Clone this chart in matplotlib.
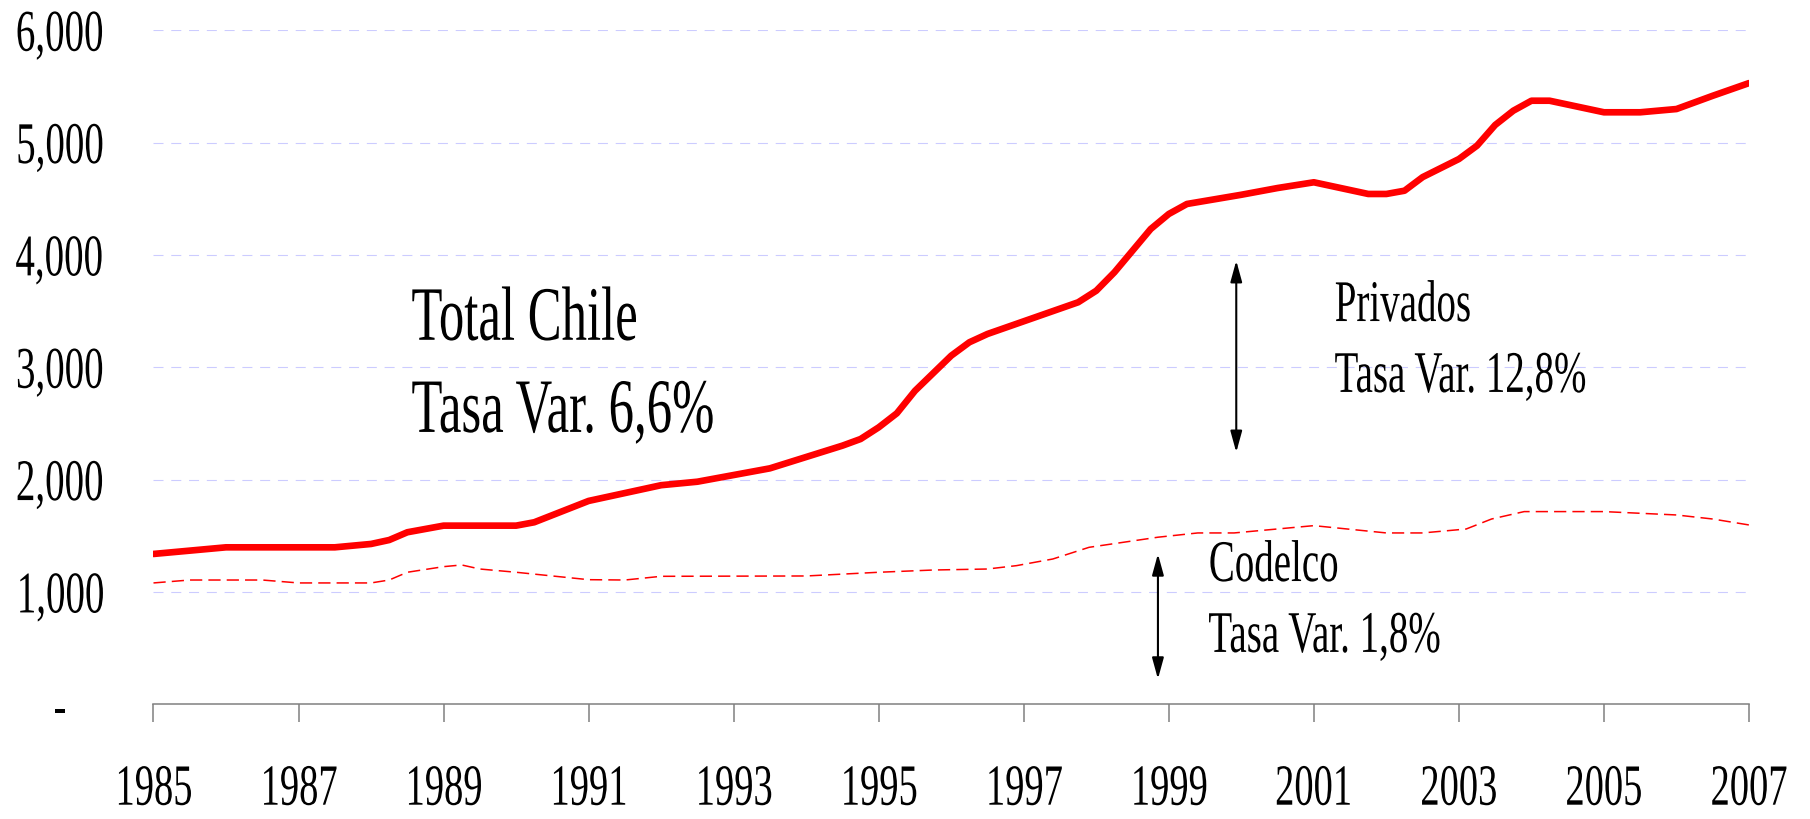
import matplotlib
matplotlib.use('Agg')
import matplotlib.pyplot as plt
from matplotlib.patheffects import AbstractPathEffect
from matplotlib.transforms import Affine2D, blended_transform_factory

# Producción de cobre en Chile (miles de TM)
total_years = [1985.0, 1986.0, 1987.5, 1988.0, 1988.25, 1988.5, 1989.0, 1990.0,
               1990.25, 1991.0, 1992.0, 1992.5, 1993.5, 1994.5, 1994.75, 1995.0,
               1995.25, 1995.5, 1996.0, 1996.25, 1996.5, 1997.75, 1998.0, 1998.25,
               1998.75, 1999.0, 1999.25, 2000.0, 2000.5, 2001.0, 2001.75, 2002.0,
               2002.25, 2002.5, 2003.0, 2003.25, 2003.5, 2003.75, 2004.0, 2004.25,
               2005.0, 2005.5, 2006.0, 2006.5, 2007.0]
total_values = [1338, 1397, 1397, 1427, 1462, 1531, 1590, 1590,
                1620, 1810, 1950, 1981, 2100, 2302, 2361, 2465,
                2590, 2790, 3103, 3222, 3296, 3578, 3681, 3845,
                4230, 4364, 4453, 4535, 4595, 4646, 4542, 4542,
                4571, 4692, 4853, 4972, 5156, 5283, 5372, 5372,
                5269, 5269, 5298, 5416, 5529]

codelco_years = [1985.0, 1985.5, 1986.5, 1987.0, 1988.0, 1988.25, 1988.5, 1989.0,
                 1989.25, 1989.5, 1990.0, 1991.0, 1991.5, 1992.0, 1994.0, 1995.0,
                 1995.75, 1996.5, 1996.9, 1997.4, 1997.9, 1998.85, 1999.4, 1999.9,
                 2001.0, 2002.0, 2002.5, 2003.1, 2003.45, 2003.9, 2005.0, 2006.0,
                 2006.5, 2007.0]
codelco_values = [1080, 1106, 1106, 1080, 1080, 1106, 1175, 1225,
                  1240, 1204, 1175, 1109, 1106, 1139, 1142, 1175,
                  1195, 1204, 1234, 1293, 1397, 1487, 1525, 1525,
                  1590, 1525, 1525, 1560, 1649, 1715, 1715, 1685,
                  1649, 1596]

tick_years = list(range(1985, 2008, 2))
y_ticks = [0, 1000, 2000, 3000, 4000, 5000, 6000]

SQUEEZE = 0.66  # the original uses a narrow Times-like face


class Squeeze(AbstractPathEffect):
    """Draw text narrower, keeping its left/center/right ink edge in place."""

    def __init__(self, sx=SQUEEZE, anchor='left'):
        super().__init__()
        self.sx = sx
        self.anchor = anchor

    def draw_path(self, renderer, gc, tpath, affine, rgbFace=None):
        ext = tpath.get_extents(affine)
        if self.anchor == 'right':
            x0 = ext.x1
        elif self.anchor == 'center':
            x0 = (ext.x0 + ext.x1) / 2
        else:
            x0 = ext.x0
        narrow = affine + Affine2D().translate(-x0, 0).scale(self.sx, 1).translate(x0, 0)
        renderer.draw_path(gc, tpath, narrow, rgbFace)


plt.rcParams['font.family'] = ['Liberation Serif', 'DejaVu Serif']

fig = plt.figure(figsize=(18.1, 8.2), dpi=100)
ax = fig.add_axes([0.0848, 0.1399, 0.8815, 0.8221])

ax.plot(codelco_years, codelco_values, color='#ff0000', lw=1.1, dashes=(8, 4))
ax.plot(total_years, total_values, color='#ff0000', lw=4.8,
        solid_joinstyle='round', solid_capstyle='round')

ax.set_xlim(1985, 2007)
ax.set_ylim(0, 6000)

# grid
for v in y_ticks[1:]:
    ax.axhline(v, color='#ccccff', lw=0.8, dashes=(9, 7), zorder=0)

for side in ['top', 'right', 'left']:
    ax.spines[side].set_visible(False)
ax.spines['bottom'].set_color('#808080')
ax.spines['bottom'].set_linewidth(1.1)

ax.set_xticks(tick_years)
ax.set_xticklabels([str(y) for y in tick_years])
ax.tick_params(axis='x', direction='out', length=13, width=1.1, color='#808080',
               labelsize=42, pad=30.5)

ax.set_yticks(y_ticks)
ax.set_yticklabels([f"{v:,}" if v > 0 else "" for v in y_ticks])
ax.tick_params(axis='y', length=0, labelsize=42.5, pad=99.7)

for lab in ax.get_xticklabels():
    lab.set_path_effects([Squeeze(anchor='center')])
for lab in ax.get_yticklabels():
    lab.set_horizontalalignment('left')
    lab.set_path_effects([Squeeze(anchor='left')])

# the zero label is a dash, set further left
blend = blended_transform_factory(ax.transAxes, ax.transData)
ax.text(-0.0586, 0, '-', transform=blend, ha='center', va='center_baseline',
        fontsize=42.5, path_effects=[Squeeze(anchor='center')])

# annotations
texts = [
    (1988.55, 3244, 'Total Chile', 55.4),
    (1988.55, 2424, 'Tasa Var. 6,6%', 55.4),
    (2001.28, 3411, 'Privados', 42.5),
    (2001.28, 2780, 'Tasa Var. 12,8%', 42.5),
    (1999.54, 1097, 'Codelco', 42.5),
    (1999.54, 466, 'Tasa Var. 1,8%', 42.5),
]
for x, y, s, size in texts:
    ax.text(x, y, s, fontsize=size, ha='left', va='baseline',
            path_effects=[Squeeze(anchor='left')])

arrow = dict(arrowstyle='<|-|>,head_length=0.8,head_width=0.22', color='black',
             lw=1.5, shrinkA=0, shrinkB=0, mutation_scale=16)
ax.annotate('', xy=(1999.93, 3948), xytext=(1999.93, 2243), arrowprops=arrow)
ax.annotate('', xy=(1998.85, 1338), xytext=(1998.85, 225), arrowprops=arrow)

fig.savefig('out.png', dpi=100)
plt.close(fig)
